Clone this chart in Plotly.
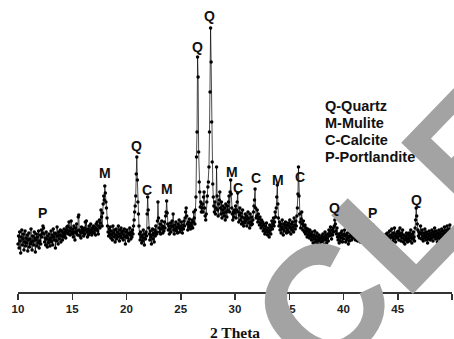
import plotly.graph_objects as go

# XRD pattern, 2-theta from 10 to 50 deg, step 0.05 deg (intensity in arbitrary units)
THETA_START = 10.0
THETA_STEP = 0.05
intensity = [
    48,56,44,60,51,39,55,62,47,53,58,42,50,61,46,54,49,57,41,52,   # 10
    59,45,53,48,63,50,42,56,51,47,60,54,40,52,58,46,55,49,61,44,   # 11
    51,57,48,62,55,59,66,64,58,50,54,47,60,53,45,56,49,58,52,46,   # 12
    54,61,50,57,47,63,55,52,59,44,58,51,65,56,48,60,53,57,62,50,   # 13
    56,61,52,59,55,63,57,60,54,62,65,59,66,58,70,61,57,64,71,60,   # 14
    58,63,55,66,60,52,64,59,68,61,57,75,77,62,56,60,54,65,59,63,   # 15
    61,56,64,58,70,62,71,60,55,63,57,66,61,59,68,62,57,64,60,66,   # 16
    59,65,62,57,68,63,70,61,58,66,72,64,69,82,75,66,79,88,96,92,   # 17
    106,99,90,84,74,66,60,56,63,58,65,54,61,57,52,66,59,55,62,50,  # 18
    57,63,53,60,55,66,58,51,62,56,64,54,59,61,52,57,63,55,48,60,   # 19
    56,62,54,59,51,58,64,57,53,60,55,62,58,66,72,80,86,96,118,135, # 20
    112,90,78,66,58,52,60,55,49,57,51,62,54,47,58,53,60,56,78,95,  # 21
    82,64,58,52,61,55,48,57,63,53,59,50,62,56,66,60,58,71,90,74,   # 22
    64,60,68,58,63,71,66,59,65,61,70,64,76,80,91,79,68,62,66,58,   # 23
    63,69,60,66,71,65,78,62,58,67,63,70,61,65,59,68,64,72,60,66,   # 24
    62,70,64,59,67,63,71,66,74,80,84,76,68,62,70,65,73,67,63,69,   # 25
    66,72,64,70,80,74,68,82,95,135,160,235,215,140,110,100,85,90,80,84,  # 26
    88,80,95,100,84,76,72,78,90,96,105,110,125,160,200,264,230,170,130,108,  # 27
    95,86,80,90,78,84,125,96,82,76,88,92,100,84,78,90,74,82,86,79, # 28
    76,84,72,88,80,75,86,82,90,96,80,100,112,98,84,78,72,80,75,82, # 29
    79,86,74,82,90,99,80,70,77,84,72,79,68,75,82,70,66,74,69,78,   # 30
    71,76,66,73,80,69,74,64,78,70,67,75,68,72,80,86,92,103,84,74,  # 31
    76,82,70,78,73,67,75,69,64,72,66,70,61,68,63,58,66,60,69,62,   # 32
    57,64,60,55,67,62,58,65,71,63,68,74,66,70,80,75,84,95,107,88,  # 33
    74,66,70,62,68,59,65,72,63,57,68,61,66,70,64,59,67,62,69,60,   # 34
    66,72,64,58,68,62,70,65,60,74,67,63,71,66,76,84,98,125,96,78,  # 35
    70,64,73,80,68,62,71,66,60,67,58,64,61,55,63,57,60,54,62,56,   # 36
    58,52,60,55,49,57,53,61,50,56,52,59,48,55,51,57,53,47,54,50,   # 37
    56,51,58,53,47,55,60,52,57,49,54,58,51,62,56,60,65,58,53,62,   # 38
    57,64,60,66,72,68,61,58,64,55,52,58,49,56,51,59,54,61,50,57,   # 39
    53,58,62,56,50,57,52,59,54,48,56,51,60,55,58,52,57,61,54,59,   # 40
    55,60,52,58,63,56,51,59,54,61,57,50,58,53,62,56,60,55,59,53,   # 41
    57,62,55,60,53,58,64,56,61,55,59,52,60,66,67,62,56,58,53,59,   # 42
    51,57,48,54,59,52,46,53,49,56,51,45,54,50,57,52,48,55,51,58,   # 43
    53,59,50,56,52,61,54,48,57,63,55,51,59,53,64,56,50,58,54,60,   # 44
    55,61,52,58,64,56,51,59,54,62,50,57,53,48,56,52,59,54,50,57,   # 45
    53,59,51,56,62,54,49,58,53,60,55,51,64,72,84,76,68,62,56,60,   # 46
    54,58,66,59,53,62,56,51,59,54,63,57,52,60,55,49,58,53,61,56,   # 47
    52,59,54,62,57,51,60,55,64,58,53,61,56,50,59,54,62,57,52,60,   # 48
    55,63,58,53,61,56,65,59,54,62,57,66,60,55,63,58,67,61,56,62,   # 49
    59,                                                            # 50
]
two_theta = [round(THETA_START + i * THETA_STEP, 2) for i in range(len(intensity))]

# Phase labels: (letter, 2-theta, label height)
peak_letters = ["P", "M", "Q", "C", "M", "Q", "Q", "M", "C", "C", "M", "C", "Q", "P", "Q", "C"]
peak_theta   = [12.3, 18.0, 20.95, 21.85, 23.7, 26.56, 27.68, 29.7, 30.25, 31.9, 33.93, 35.95, 39.18, 42.7, 46.74, 50.55]
peak_label_y = [79, 119, 146, 102, 103, 245, 276, 120, 104, 114, 112, 115, 84, 79, 92, 104]

legend_lines = ["Q-Quartz", "M-Mulite", "C-Calcite", "P-Portlandite"]
legend_theta = 38.15
legend_y = [186, 169, 152, 135]
x_ticks = [10, 15, 20, 25, 30, 35, 40, 45, 50]

fig = go.Figure()
fig.add_trace(go.Scatter(
    x=two_theta, y=intensity, mode="lines+markers",
    line=dict(color="black", width=0.7),
    marker=dict(color="black", size=3.5),
    showlegend=False, hoverinfo="skip", cliponaxis=False,
))

annotations = []
# faint watermark remnants (drawn first, labels on top)
annotations.append(dict(x=0.872, y=0.215, xref="paper", yref="paper", text="<b>CLE</b>",
                        showarrow=False, textangle=-46, xanchor="center", yanchor="middle",
                        font=dict(family="Liberation Sans", size=165, color="#a3a3a3")))
for letter, xv, yv in zip(peak_letters, peak_theta, peak_label_y):
    annotations.append(dict(x=xv, y=yv, xref="x", yref="y", text="<b>%s</b>" % letter,
                            showarrow=False, xanchor="center", yanchor="middle",
                            font=dict(family="Liberation Sans", size=14, color="#111")))
for line, yv in zip(legend_lines, legend_y):
    annotations.append(dict(x=legend_theta, y=yv, xref="x", yref="y",
                            text="<b>%s</b>" % line, showarrow=False, xanchor="left", yanchor="middle",
                            font=dict(family="Liberation Sans", size=14.5, color="#111")))

annotations.append(dict(x=0.5, y=-0.137, xref="paper", yref="paper", text="<b>2 Theta</b>",
                        showarrow=False, xanchor="center", yanchor="middle",
                        font=dict(family="Liberation Serif", size=15.5, color="#111")))

fig.update_layout(
    width=454, height=339,
    margin=dict(l=18, r=2, t=0, b=47, autoexpand=False),
    paper_bgcolor="white", plot_bgcolor="white",
    annotations=annotations,
    xaxis=dict(range=[10, 50], tickvals=x_ticks, ticktext=["<b>%d</b>" % t for t in x_ticks],
               showline=True, linecolor="#333", linewidth=1.5, ticks="outside", ticklen=6,
               tickwidth=1.5, tickcolor="#333", showgrid=False, zeroline=False, automargin=False,
               tickfont=dict(family="Liberation Sans", size=11.5, color="#222")),
    yaxis=dict(range=[0, 292], visible=False, showgrid=False, zeroline=False, automargin=False),
)
fig.write_html("out.html", config={"displayModeBar": False, "staticPlot": True},
               post_script="document.body.style.margin='0px';document.body.style.overflow='hidden';")
